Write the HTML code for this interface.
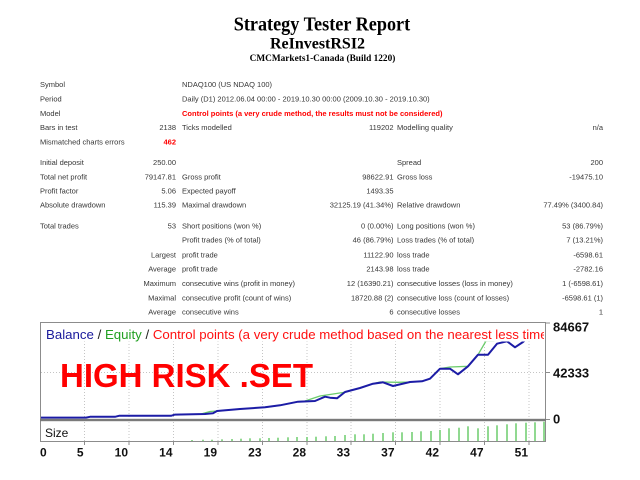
<!DOCTYPE html>
<html>
<head>
<meta charset="utf-8">
<style>
html,body{margin:0;padding:0;background:#fff;}
svg{display:block;}
.t{font-family:"Liberation Sans",Arial,sans-serif;font-size:7.5px;fill:#363636;}
.r{text-anchor:end;}
</style>
</head>
<body>
<svg width="640" height="480" viewBox="0 0 640 480" xmlns="http://www.w3.org/2000/svg">
<rect width="640" height="480" fill="#fff"/>

<!-- Titles -->
<g transform="scale(0.91,1)">
<text x="353.8" y="30.7" text-anchor="middle" font-family="Liberation Serif, serif" font-weight="bold" font-size="20" fill="#000">Strategy Tester Report</text>
</g>
<text x="317.5" y="48.3" text-anchor="middle" font-family="Liberation Serif, serif" font-weight="bold" font-size="16" fill="#000">ReInvestRSI2</text>
<text x="322.5" y="61" text-anchor="middle" font-family="Liberation Serif, serif" font-weight="bold" font-size="9.3" fill="#000">CMCMarkets1-Canada (Build 1220)</text>

<!-- Table -->
<g>
<text class="t" x="40" y="87">Symbol</text>
<text class="t" x="182" y="87">NDAQ100 (US NDAQ 100)</text>

<text class="t" x="40" y="101.7">Period</text>
<text class="t" x="182" y="101.7">Daily (D1) 2012.06.04 00:00 - 2019.10.30 00:00 (2009.10.30 - 2019.10.30)</text>

<text class="t" x="40" y="116">Model</text>
<text class="t" x="182" y="116" style="fill:#ff0000;font-weight:bold">Control points (a very crude method, the results must not be considered)</text>

<text class="t" x="40" y="130">Bars in test</text>
<text class="t r" x="176" y="130">2138</text>
<text class="t" x="182" y="130">Ticks modelled</text>
<text class="t r" x="393.5" y="130">119202</text>
<text class="t" x="397" y="130">Modelling quality</text>
<text class="t r" x="603" y="130">n/a</text>

<text class="t" x="40" y="144.4">Mismatched charts errors</text>
<text class="t r" x="176" y="144.4" style="fill:#ff0000;font-weight:bold">462</text>

<text class="t" x="40" y="165">Initial deposit</text>
<text class="t r" x="176" y="165">250.00</text>
<text class="t" x="397" y="165">Spread</text>
<text class="t r" x="603" y="165">200</text>

<text class="t" x="40" y="179.4">Total net profit</text>
<text class="t r" x="176" y="179.4">79147.81</text>
<text class="t" x="182" y="179.4">Gross profit</text>
<text class="t r" x="393.5" y="179.4">98622.91</text>
<text class="t" x="397" y="179.4">Gross loss</text>
<text class="t r" x="603" y="179.4">-19475.10</text>

<text class="t" x="40" y="193.7">Profit factor</text>
<text class="t r" x="176" y="193.7">5.06</text>
<text class="t" x="182" y="193.7">Expected payoff</text>
<text class="t r" x="393.5" y="193.7">1493.35</text>

<text class="t" x="40" y="207.7">Absolute drawdown</text>
<text class="t r" x="176" y="207.7">115.39</text>
<text class="t" x="182" y="207.7">Maximal drawdown</text>
<text class="t r" x="393.5" y="207.7">32125.19 (41.34%)</text>
<text class="t" x="397" y="207.7">Relative drawdown</text>
<text class="t r" x="603" y="207.7">77.49% (3400.84)</text>

<text class="t" x="40" y="228.7">Total trades</text>
<text class="t r" x="176" y="228.7">53</text>
<text class="t" x="182" y="228.7">Short positions (won %)</text>
<text class="t r" x="393.5" y="228.7">0 (0.00%)</text>
<text class="t" x="397" y="228.7">Long positions (won %)</text>
<text class="t r" x="603" y="228.7">53 (86.79%)</text>

<text class="t" x="182" y="242.7">Profit trades (% of total)</text>
<text class="t r" x="393.5" y="242.7">46 (86.79%)</text>
<text class="t" x="397" y="242.7">Loss trades (% of total)</text>
<text class="t r" x="603" y="242.7">7 (13.21%)</text>

<text class="t r" x="176" y="257.4">Largest</text>
<text class="t" x="182" y="257.4">profit trade</text>
<text class="t r" x="393.5" y="257.4">11122.90</text>
<text class="t" x="397" y="257.4">loss trade</text>
<text class="t r" x="603" y="257.4">-6598.61</text>

<text class="t r" x="176" y="271.4">Average</text>
<text class="t" x="182" y="271.4">profit trade</text>
<text class="t r" x="393.5" y="271.4">2143.98</text>
<text class="t" x="397" y="271.4">loss trade</text>
<text class="t r" x="603" y="271.4">-2782.16</text>

<text class="t r" x="176" y="286">Maximum</text>
<text class="t" x="182" y="286">consecutive wins (profit in money)</text>
<text class="t r" x="393.5" y="286">12 (16390.21)</text>
<text class="t" x="397" y="286">consecutive losses (loss in money)</text>
<text class="t r" x="603" y="286">1 (-6598.61)</text>

<text class="t r" x="176" y="300.4">Maximal</text>
<text class="t" x="182" y="300.4">consecutive profit (count of wins)</text>
<text class="t r" x="393.5" y="300.4">18720.88 (2)</text>
<text class="t" x="397" y="300.4">consecutive loss (count of losses)</text>
<text class="t r" x="603" y="300.4">-6598.61 (1)</text>

<text class="t r" x="176" y="314.7">Average</text>
<text class="t" x="182" y="314.7">consecutive wins</text>
<text class="t r" x="393.5" y="314.7">6</text>
<text class="t" x="397" y="314.7">consecutive losses</text>
<text class="t r" x="603" y="314.7">1</text>
</g>

<!-- Chart gridlines -->
<g stroke="#c4c4c4" stroke-width="1" stroke-dasharray="1,2">
<line x1="84.5" y1="323" x2="84.5" y2="441"/>
<line x1="129" y1="323" x2="129" y2="441"/>
<line x1="173.5" y1="323" x2="173.5" y2="441"/>
<line x1="218" y1="323" x2="218" y2="441"/>
<line x1="262.5" y1="323" x2="262.5" y2="441"/>
<line x1="307" y1="323" x2="307" y2="441"/>
<line x1="351" y1="323" x2="351" y2="441"/>
<line x1="395.5" y1="323" x2="395.5" y2="441"/>
<line x1="440" y1="323" x2="440" y2="441"/>
<line x1="484.5" y1="323" x2="484.5" y2="441"/>
<line x1="529" y1="323" x2="529" y2="441"/>
<line x1="41" y1="372.5" x2="545" y2="372.5"/>
</g>

<!-- Equity -->
<polyline fill="none" stroke="#6ccc6c" stroke-width="1.3" stroke-linejoin="round" points="40,417.6 86,417.6 90,416.8 115,416.8 119,415.8 171,415.8 175,414.6 201,414 210,411.5 217,411 240,409 265,407.3 280,405.3 298,401.7 305,401 320,396 343,392.5 345,392 360,388 373,383.7 380,382 398,382.3 410,382 422,381.3 430,378.7 440,368.7 450,367 468,366.3 478,354.7 486,341 494,341 500,335 520,330 545,325"/>
<!-- Balance -->
<polyline fill="none" stroke="#1c1ca6" stroke-width="2" stroke-linejoin="round" points="40,417.6 86,417.6 90,416.8 115,416.8 119,415.8 171,415.8 175,414.6 205,414 213,413.3 217,411 240,409 265,407.3 280,405.3 298,401.7 315,401 325,396.7 330,397.7 337,398.3 345,392 360,388 373,383.7 383,382.3 393,386 410,382 422,381.3 430,378.7 440,368.7 450,368.7 458,374.3 468,366.3 478,354.7 488,354.7 497,343.7 507,341.3 515,347.3 523,342 530,336 545,330"/>

<!-- Legend background -->
<rect x="41" y="323" width="504" height="18.5" fill="#fff"/>
<defs><clipPath id="lc"><rect x="41" y="323" width="503" height="20"/></clipPath></defs>
<text x="46" y="339" font-family="Liberation Sans, Arial, sans-serif" font-size="13.25" clip-path="url(#lc)"><tspan fill="#1a1a9c">Balance</tspan><tspan fill="#222"> / </tspan><tspan fill="#22a022">Equity</tspan><tspan fill="#222"> / </tspan><tspan fill="#ff1010">Control points (a very crude method based on the nearest less timeframe</tspan></text>

<!-- HIGH RISK -->
<text x="60" y="387" font-family="Liberation Sans, Arial, sans-serif" font-weight="bold" font-size="33" fill="#ff0000">HIGH RISK .SET</text>

<!-- Size bars -->
<g stroke="#6ccc6c" stroke-width="1.5">
<line x1="192" y1="441" x2="192" y2="440"/>
<line x1="203" y1="441" x2="203" y2="439.7"/>
<line x1="212" y1="441" x2="212" y2="439.7"/>
<line x1="222" y1="441" x2="222" y2="439.3"/>
<line x1="232" y1="441" x2="232" y2="439"/>
<line x1="241" y1="441" x2="241" y2="438.7"/>
<line x1="250" y1="441" x2="250" y2="438.3"/>
<line x1="260" y1="441" x2="260" y2="438.3"/>
<line x1="269" y1="441" x2="269" y2="438"/>
<line x1="278" y1="441" x2="278" y2="437.7"/>
<line x1="288" y1="441" x2="288" y2="437.3"/>
<line x1="297" y1="441" x2="297" y2="437"/>
<line x1="307" y1="441" x2="307" y2="437"/>
<line x1="316" y1="441" x2="316" y2="436.7"/>
<line x1="326" y1="441" x2="326" y2="436.3"/>
<line x1="335" y1="441" x2="335" y2="436"/>
<line x1="345" y1="441" x2="345" y2="435"/>
<line x1="355" y1="441" x2="355" y2="434.3"/>
<line x1="364" y1="441" x2="364" y2="434.3"/>
<line x1="373" y1="441" x2="373" y2="433.7"/>
<line x1="383" y1="441" x2="383" y2="433"/>
<line x1="393" y1="441" x2="393" y2="432.3"/>
<line x1="402" y1="441" x2="402" y2="432.3"/>
<line x1="412" y1="441" x2="412" y2="432"/>
<line x1="421" y1="441" x2="421" y2="431.3"/>
<line x1="431" y1="441" x2="431" y2="431"/>
<line x1="440" y1="441" x2="440" y2="430"/>
<line x1="449" y1="441" x2="449" y2="428.3"/>
<line x1="459" y1="441" x2="459" y2="427.7"/>
<line x1="468" y1="441" x2="468" y2="426.3"/>
<line x1="478" y1="441" x2="478" y2="428.3"/>
<line x1="488" y1="441" x2="488" y2="426.3"/>
<line x1="497" y1="441" x2="497" y2="425.3"/>
<line x1="507" y1="441" x2="507" y2="424.3"/>
<line x1="516" y1="441" x2="516" y2="423.3"/>
<line x1="526" y1="441" x2="526" y2="422.7"/>
<line x1="535" y1="441" x2="535" y2="422.3"/>
<line x1="544" y1="441" x2="544" y2="421.7"/>
</g>

<!-- Frame -->
<g stroke="#8c8c8c" stroke-width="1" fill="none">
<line x1="40" y1="322.5" x2="546" y2="322.5"/>
<line x1="40.5" y1="322" x2="40.5" y2="442"/>
<line x1="545.5" y1="322" x2="545.5" y2="442"/>
<line x1="40" y1="441.5" x2="546" y2="441.5"/>
</g>
<rect x="40" y="418.8" width="506" height="2.4" fill="#7a7a7a"/>
<!-- Ticks -->
<g stroke="#8c8c8c" stroke-width="1">
<line x1="546" y1="323" x2="550" y2="323"/>
<line x1="546" y1="372.5" x2="550" y2="372.5"/>
<line x1="546" y1="419.5" x2="550" y2="419.5"/>
<line x1="84.5" y1="441" x2="84.5" y2="445"/>
<line x1="129" y1="441" x2="129" y2="445"/>
<line x1="173.5" y1="441" x2="173.5" y2="445"/>
<line x1="218" y1="441" x2="218" y2="445"/>
<line x1="262.5" y1="441" x2="262.5" y2="445"/>
<line x1="307" y1="441" x2="307" y2="445"/>
<line x1="351" y1="441" x2="351" y2="445"/>
<line x1="395.5" y1="441" x2="395.5" y2="445"/>
<line x1="440" y1="441" x2="440" y2="445"/>
<line x1="484.5" y1="441" x2="484.5" y2="445"/>
<line x1="529" y1="441" x2="529" y2="445"/>
</g>

<!-- Size label -->
<text x="45" y="437" font-family="Liberation Sans, Arial, sans-serif" font-size="12" fill="#111">Size</text>

<!-- Right axis labels -->
<g font-family="Liberation Sans, Arial, sans-serif" font-size="13" font-weight="bold" fill="#111">
<text x="553" y="331.7">84667</text>
<text x="553" y="377.7">42333</text>
<text x="553" y="423.7">0</text>
</g>

<!-- Bottom axis labels -->
<g font-family="Liberation Sans, Arial, sans-serif" font-size="12" font-weight="bold" fill="#111" text-anchor="end">
<text x="40" y="456.3" text-anchor="start">0</text>
<text x="83.5" y="456.3">5</text>
<text x="128" y="456.3">10</text>
<text x="172.5" y="456.3">14</text>
<text x="217" y="456.3">19</text>
<text x="261.5" y="456.3">23</text>
<text x="306" y="456.3">28</text>
<text x="350" y="456.3">33</text>
<text x="394.5" y="456.3">37</text>
<text x="439" y="456.3">42</text>
<text x="483.5" y="456.3">47</text>
<text x="528" y="456.3">51</text>
</g>
</svg>
</body>
</html>
